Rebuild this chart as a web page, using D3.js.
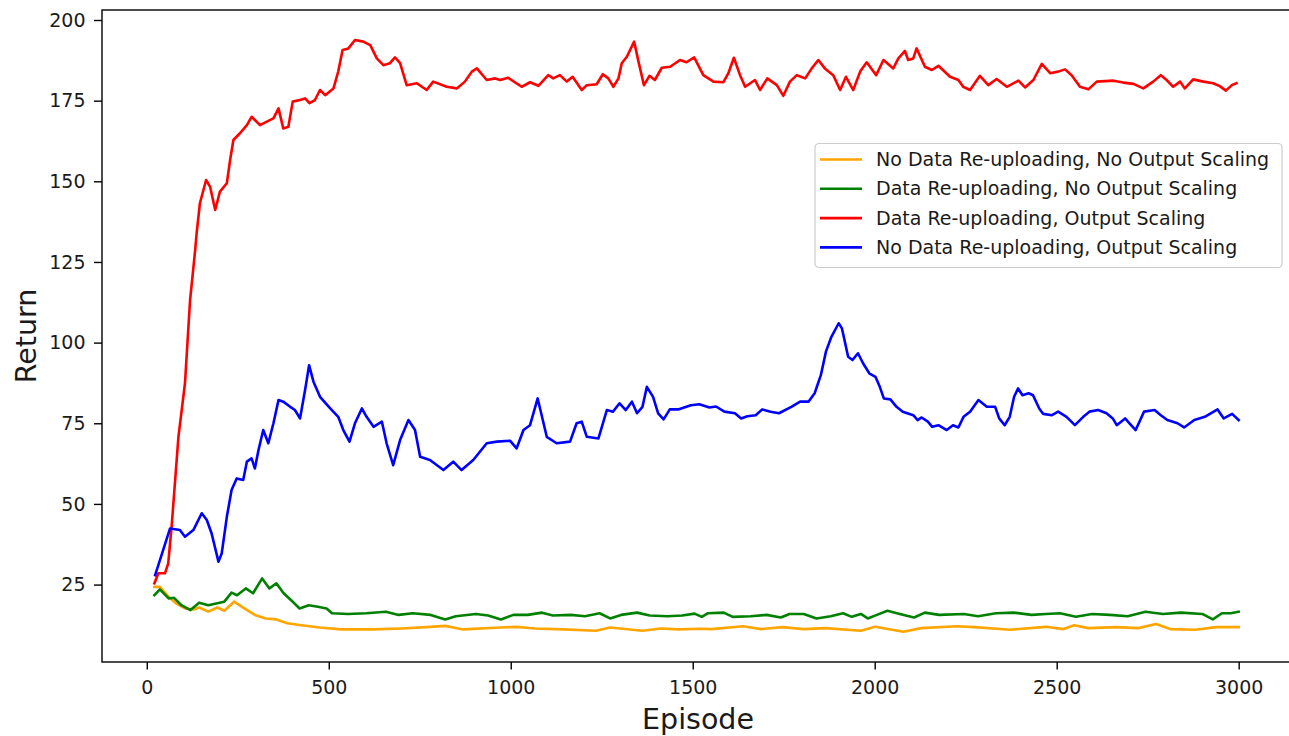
<!DOCTYPE html>
<html>
<head>
  <meta charset="utf-8">
  <style>
    body { margin: 0; background: #fff; }
    svg { display: block; font-family: "DejaVu Sans", sans-serif; }
  </style>
  <title>Return by Episode</title>
</head>
<body>
  <script src="https://cdn.jsdelivr.net/npm/d3@7"></script>
  <script>
  // series data (episode, smoothed return)
  var orangeEpisodes = [21, 36, 60, 80, 105, 129, 144, 169, 194, 213, 240, 268, 297, 327, 356, 386, 425, 475, 534, 623, 701, 780, 820, 869, 973, 1017, 1066, 1145, 1234, 1273, 1362, 1412, 1461, 1520, 1551, 1639, 1688, 1747, 1805, 1864, 1962, 2001, 2079, 2128, 2226, 2275, 2372, 2470, 2519, 2548, 2587, 2665, 2724, 2773, 2812, 2880, 2939, 3000];
  var orangeReturns  = [24.3, 24.3, 21.2, 19.2, 17.6, 17.3, 17.9, 16.6, 17.9, 16.9, 19.7, 17.6, 15.6, 14.5, 14.2, 13.0, 12.4, 11.7, 11.1, 11.1, 11.4, 11.9, 12.2, 11.1, 11.7, 11.9, 11.4, 11.1, 10.7, 11.7, 10.7, 11.4, 11.1, 11.3, 11.2, 12.1, 11.2, 11.8, 11.2, 11.5, 10.7, 11.9, 10.4, 11.5, 12.1, 11.8, 11.0, 11.9, 11.2, 12.4, 11.5, 11.8, 11.5, 12.8, 11.2, 11.0, 11.8, 11.8];

  var greenEpisodes = [21, 36, 60, 75, 95, 120, 144, 169, 194, 213, 233, 248, 272, 292, 317, 337, 356, 376, 396, 420, 445, 470, 494, 509, 553, 603, 657, 692, 731, 780, 820, 849, 904, 938, 973, 1007, 1047, 1086, 1116, 1165, 1204, 1244, 1273, 1303, 1347, 1382, 1431, 1471, 1505, 1525, 1541, 1585, 1610, 1659, 1703, 1742, 1766, 1805, 1840, 1879, 1913, 1937, 1962, 1981, 2006, 2035, 2069, 2108, 2138, 2177, 2245, 2284, 2333, 2382, 2431, 2470, 2509, 2553, 2597, 2646, 2695, 2744, 2792, 2841, 2900, 2929, 2954, 2978, 3000];
  var greenReturns  = [21.7, 23.5, 20.7, 20.9, 18.6, 17.1, 19.4, 18.6, 19.2, 19.7, 22.5, 21.7, 23.8, 22.3, 26.9, 23.8, 25.4, 22.3, 20.2, 17.6, 18.6, 18.1, 17.6, 16.1, 15.9, 16.1, 16.6, 15.6, 16.1, 15.6, 14.2, 15.2, 15.9, 15.4, 14.2, 15.6, 15.6, 16.3, 15.4, 15.6, 15.2, 16.1, 14.5, 15.6, 16.3, 15.4, 15.2, 15.4, 16.0, 15.0, 16.1, 16.3, 15.0, 15.2, 15.6, 14.8, 15.9, 15.9, 14.5, 15.2, 16.1, 15.0, 15.9, 14.5, 15.6, 16.9, 15.9, 14.8, 16.3, 15.6, 15.9, 15.2, 16.1, 16.3, 15.6, 15.9, 16.1, 15.0, 15.9, 15.6, 15.2, 16.6, 15.9, 16.3, 15.9, 14.2, 16.1, 16.1, 16.6];

  var redEpisodes = [21, 32, 50, 59, 69, 87, 105, 119, 133, 137, 146, 163, 174, 188, 201, 220, 229, 238, 256, 275, 288, 311, 330, 348, 362, 375, 389, 401, 421, 435, 447, 462, 476, 490, 513, 526, 538, 554, 572, 595, 614, 632, 650, 668, 682, 696, 714, 742, 769, 787, 824, 852, 874, 893, 907, 934, 957, 971, 993, 1030, 1053, 1076, 1103, 1117, 1135, 1154, 1170, 1195, 1209, 1236, 1253, 1268, 1282, 1296, 1305, 1319, 1339, 1351, 1366, 1381, 1396, 1415, 1438, 1465, 1483, 1504, 1529, 1557, 1584, 1598, 1613, 1630, 1644, 1671, 1685, 1705, 1731, 1749, 1767, 1786, 1809, 1827, 1845, 1863, 1886, 1905, 1921, 1941, 1960, 1978, 2004, 2024, 2051, 2065, 2083, 2092, 2106, 2115, 2138, 2157, 2175, 2207, 2230, 2243, 2262, 2289, 2312, 2335, 2363, 2395, 2413, 2436, 2459, 2482, 2504, 2523, 2541, 2564, 2587, 2610, 2656, 2683, 2711, 2738, 2765, 2786, 2802, 2820, 2839, 2852, 2875, 2903, 2930, 2948, 2965, 2981, 2994];
  var redReturns  = [25.4, 28.5, 28.5, 31.6, 44.0, 70.8, 87.4, 113.2, 128.7, 133.9, 143.2, 150.4, 148.3, 141.1, 146.8, 149.4, 156.6, 162.8, 164.9, 167.4, 170.0, 167.4, 168.5, 169.5, 172.6, 166.4, 166.9, 174.7, 175.2, 175.7, 174.2, 175.2, 178.3, 176.7, 178.8, 184.0, 190.7, 191.2, 193.8, 193.3, 192.2, 188.1, 186.0, 186.6, 188.4, 186.6, 179.8, 180.4, 178.3, 180.9, 179.3, 178.8, 180.9, 184.0, 185.0, 181.4, 181.9, 181.4, 182.1, 179.3, 180.7, 179.6, 182.9, 181.9, 182.9, 180.9, 182.4, 178.3, 179.8, 180.1, 183.2, 181.9, 179.3, 181.9, 186.6, 188.6, 193.3, 187.1, 179.8, 182.7, 181.4, 185.2, 185.5, 187.6, 186.9, 188.4, 182.9, 180.9, 180.7, 183.5, 188.3, 182.9, 179.3, 181.4, 178.3, 181.9, 179.8, 176.5, 180.9, 182.9, 181.9, 185.0, 187.6, 185.0, 182.9, 178.3, 182.4, 178.3, 184.0, 186.9, 182.9, 187.6, 185.0, 188.1, 190.4, 187.6, 188.1, 191.2, 185.5, 184.5, 185.8, 182.4, 181.4, 179.3, 178.3, 182.7, 179.8, 181.7, 179.3, 181.2, 179.1, 181.4, 186.4, 183.5, 184.0, 184.7, 182.9, 179.3, 178.5, 180.9, 181.2, 180.6, 180.2, 178.8, 180.9, 182.9, 181.4, 179.3, 180.9, 178.8, 181.6, 180.9, 180.4, 179.5, 178.1, 179.8, 180.4];

  var blueEpisodes = [23, 64, 91, 105, 128, 151, 165, 178, 197, 206, 220, 233, 247, 265, 275, 288, 297, 307, 320, 334, 348, 362, 375, 394, 407, 421, 435, 446, 458, 476, 504, 526, 540, 557, 572, 591, 604, 623, 646, 659, 677, 696, 719, 737, 751, 778, 815, 842, 865, 897, 934, 962, 998, 1016, 1035, 1053, 1074, 1099, 1126, 1163, 1181, 1195, 1209, 1241, 1264, 1281, 1299, 1316, 1333, 1347, 1362, 1374, 1391, 1405, 1420, 1437, 1460, 1495, 1518, 1546, 1564, 1587, 1616, 1633, 1650, 1673, 1691, 1714, 1737, 1771, 1795, 1818, 1835, 1852, 1866, 1881, 1901, 1910, 1927, 1939, 1954, 1968, 1985, 2002, 2014, 2025, 2043, 2060, 2077, 2106, 2118, 2129, 2146, 2158, 2175, 2198, 2215, 2230, 2244, 2262, 2285, 2296, 2308, 2331, 2342, 2357, 2371, 2383, 2394, 2406, 2423, 2435, 2452, 2463, 2487, 2504, 2527, 2550, 2573, 2590, 2614, 2637, 2654, 2665, 2688, 2700, 2717, 2740, 2769, 2786, 2804, 2832, 2850, 2878, 2907, 2942, 2959, 2982, 3000];
  var blueReturns  = [27.9, 42.4, 41.9, 39.8, 41.9, 47.1, 45.0, 40.9, 32.1, 34.7, 46.0, 54.3, 57.9, 57.4, 63.1, 64.1, 61.0, 66.7, 72.9, 68.8, 75.0, 82.2, 81.7, 80.1, 79.1, 76.5, 85.3, 93.0, 87.9, 83.2, 79.6, 77.0, 72.9, 69.3, 75.0, 79.6, 77.0, 73.9, 75.5, 68.8, 62.0, 69.8, 76.0, 72.9, 64.6, 63.6, 60.5, 63.1, 60.5, 63.6, 68.8, 69.3, 69.6, 67.2, 72.9, 74.4, 82.7, 70.8, 68.8, 69.3, 75.0, 75.5, 70.8, 70.3, 79.1, 78.6, 81.2, 79.1, 81.7, 78.1, 80.1, 86.3, 83.2, 78.1, 76.2, 79.3, 79.3, 80.6, 80.9, 79.9, 80.2, 78.6, 78.1, 76.5, 77.2, 77.5, 79.3, 78.6, 78.1, 80.1, 81.7, 81.7, 84.3, 89.9, 97.2, 101.8, 106.0, 104.4, 95.6, 94.6, 96.7, 93.6, 90.5, 89.4, 86.3, 82.7, 82.4, 80.1, 78.6, 77.5, 76.0, 76.8, 75.5, 73.9, 74.4, 72.9, 74.4, 73.7, 77.0, 78.6, 82.2, 81.2, 80.1, 80.1, 76.5, 74.4, 77.0, 83.2, 85.8, 83.7, 84.3, 83.7, 79.6, 77.9, 77.5, 78.6, 77.0, 74.4, 77.0, 78.6, 79.1, 78.1, 76.5, 74.4, 76.5, 75.0, 72.9, 78.6, 79.1, 77.5, 76.0, 75.0, 73.7, 76.0, 77.0, 79.3, 76.5, 77.9, 76.0];

  var seriesLabels = ["No Data Re-uploading, No Output Scaling", "Data Re-uploading, No Output Scaling", "Data Re-uploading, Output Scaling", "No Data Re-uploading, Output Scaling"];
  var seriesColors = ["orange", "green", "red", "blue"];
  var xTicks = [0, 500, 1000, 1500, 2000, 2500, 3000];
  var yTicks = [25, 50, 75, 100, 125, 150, 175, 200];

  // size and plot box (right edge of the frame falls just outside the picture)
  var width = 1289, height = 736;
  var plot = {left: 102, top: 10, right: 1294, bottom: 662};

  var x = d3.scaleLinear().domain([-123, 3152]).range([plot.left, plot.right]);
  var y = d3.scaleLinear().domain([1.0, 203.1]).range([plot.bottom, plot.top]);

  var svg = d3.select("body").append("svg")
      .attr("width", width)
      .attr("height", height);

  var series = [
    {episodes: orangeEpisodes, returns: orangeReturns},
    {episodes: greenEpisodes, returns: greenReturns},
    {episodes: redEpisodes, returns: redReturns},
    {episodes: blueEpisodes, returns: blueReturns}
  ];

  var line = d3.line()
      .x(function(d) { return x(d[0]); })
      .y(function(d) { return y(d[1]); });

  // lines, drawn in legend order so blue sits on top
  series.forEach(function(s, i) {
    var pts = s.episodes.map(function(e, j) { return [e, s.returns[j]]; });
    svg.append("path")
      .datum(pts)
      .attr("fill", "none")
      .attr("stroke", seriesColors[i])
      .attr("stroke-width", 2.6)
      .attr("stroke-linejoin", "round")
      .attr("stroke-linecap", "square")
      .attr("d", line);
  });

  // axes frame
  svg.append("rect")
    .attr("x", plot.left)
    .attr("y", plot.top)
    .attr("width", plot.right - plot.left)
    .attr("height", plot.bottom - plot.top)
    .attr("fill", "none")
    .attr("stroke", "#000")
    .attr("stroke-width", 1.4);

  var xAxis = d3.axisBottom(x).tickValues(xTicks).tickSize(7.5).tickPadding(11).tickFormat(d3.format("d"));
  var yAxis = d3.axisLeft(y).tickValues(yTicks).tickSize(8).tickPadding(8.5).tickFormat(d3.format("d"));

  var gx = svg.append("g")
    .attr("transform", "translate(0," + plot.bottom + ")")
    .call(xAxis);
  var gy = svg.append("g")
    .attr("transform", "translate(" + plot.left + ",0)")
    .call(yAxis);

  [gx, gy].forEach(function(g) {
    g.select(".domain").remove();
    g.attr("font-family", "DejaVu Sans").attr("font-size", 19);
    g.selectAll(".tick line").attr("stroke", "#000").attr("stroke-width", 1.4);
    g.selectAll(".tick text").attr("fill", "#1a1a1a");
  });

  // axis titles
  svg.append("text")
    .attr("x", (plot.left + plot.right) / 2)
    .attr("y", 729)
    .attr("text-anchor", "middle")
    .attr("font-size", 28.5)
    .attr("fill", "#1a1a1a")
    .text("Episode");

  svg.append("text")
    .attr("transform", "translate(36," + ((plot.top + plot.bottom) / 2) + ") rotate(-90)")
    .attr("text-anchor", "middle")
    .attr("font-size", 28.5)
    .attr("fill", "#1a1a1a")
    .text("Return");

  // legend
  var legend = svg.append("g").attr("transform", "translate(815,143.5)");
  legend.append("rect")
    .attr("width", 467)
    .attr("height", 124)
    .attr("rx", 4)
    .attr("fill", "#fff")
    .attr("fill-opacity", 0.8)
    .attr("stroke", "#cccccc")
    .attr("stroke-width", 1.2);

  var rows = legend.selectAll("g.row")
    .data(seriesLabels)
    .enter().append("g")
    .attr("class", "row")
    .attr("transform", function(d, i) { return "translate(0," + (16 + i * 29.3) + ")"; });

  rows.append("line")
    .attr("x1", 5).attr("x2", 47)
    .attr("stroke", function(d, i) { return seriesColors[i]; })
    .attr("stroke-width", 2.6);

  rows.append("text")
    .attr("x", 61)
    .attr("dy", "0.35em")
    .attr("font-size", 19)
    .attr("fill", "#1a1a1a")
    .text(function(d) { return d; });
  </script>
</body>
</html>
